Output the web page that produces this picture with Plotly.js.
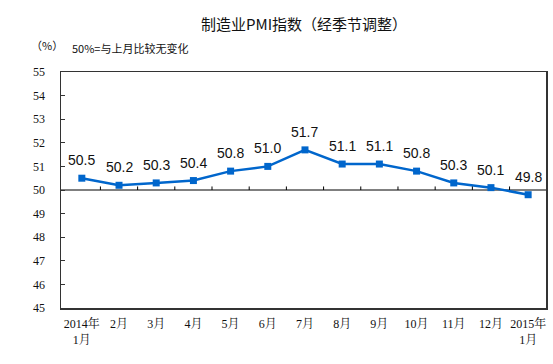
<!DOCTYPE html>
<html>
<head>
<meta charset="utf-8">
<script src="https://cdn.plot.ly/plotly-3.0.1.min.js"></script>
<style>html,body{margin:0;padding:0;background:#fff;}#chart{width:553px;height:364px;}</style>
</head>
<body>
<div id="chart"></div>
<script>
const categories = ["2014年<br>1月","2月","3月","4月","5月","6月","7月","8月","9月","10月","11月","12月","2015年<br>1月"];
const pmiValues = [50.5, 50.2, 50.3, 50.4, 50.8, 51.0, 51.7, 51.1, 51.1, 50.8, 50.3, 50.1, 49.8];
const yTickValues = [45,46,47,48,49,50,51,52,53,54,55];

const idx = categories.map((c,i)=>i);
const serifFont = "'Liberation Serif','Times New Roman','Noto Serif CJK SC','Noto Sans CJK SC',serif";

const trace = {
  x: idx,
  y: pmiValues,
  type: 'scatter',
  mode: 'lines+markers',
  line: {color: '#0066CC', width: 2.5},
  marker: {symbol: 'square', size: 7, color: '#0066CC'},
  hoverinfo: 'none',
  showlegend: false
};

const annotations = pmiValues.map((v,i)=>({
  x: i, y: v, xref: 'x', yref: 'y',
  text: v.toFixed(1), showarrow: false, yshift: 18,
  font: {family: "'Liberation Sans',Arial,sans-serif", size: 14, color: '#111'}
}));
annotations.push({
  xref: 'paper', yref: 'paper', x: 0.5, y: 1, yshift: 49, xanchor: 'center', yanchor: 'middle',
  text: '制造业PMI指数（经季节调整）', showarrow: false,
  font: {family: "'Noto Sans CJK SC',sans-serif", size: 15, color: '#111'}
});
annotations.push({
  xref: 'paper', yref: 'paper', x: 0, xshift: -14, y: 1, yshift: 27, xanchor: 'center', yanchor: 'middle',
  text: '（%）', showarrow: false,
  font: {family: "'Noto Sans CJK SC',sans-serif", size: 11, color: '#111'}
});
annotations.push({
  xref: 'paper', yref: 'paper', x: 0, xshift: 9, y: 1, yshift: 24, xanchor: 'left', yanchor: 'middle',
  text: '50%=与上月比较无变化', showarrow: false,
  font: {family: "'Noto Sans CJK SC',sans-serif", size: 11, color: '#111'}
});

const shapes = [{
  type: 'line', xref: 'paper', yref: 'y', x0: 0, x1: 1, y0: 50, y1: 50,
  line: {color: '#000', width: 1}, layer: 'below'
}];
idx.slice(0, -1).forEach(i => {
  shapes.push({type: 'line', xref: 'x', yref: 'y', x0: i + 0.5, x1: i + 0.5, y0: 50, y1: 50.15,
    line: {color: '#000', width: 1}});
});

const layout = {
  width: 553, height: 364,
  margin: {l: 61, r: 7, t: 72, b: 56},
  paper_bgcolor: '#fff', plot_bgcolor: '#fff',
  xaxis: {
    range: [-0.56, 12.48],
    tickmode: 'array', tickvals: idx, ticktext: categories,
    ticks: '', showgrid: false, zeroline: false,
    showline: true, mirror: true, linecolor: '#333', linewidth: 1.5,
    tickfont: {family: serifFont, size: 12, color: '#111'},
    ticklabelstandoff: 4
  },
  yaxis: {
    range: [45, 55],
    tickmode: 'array', tickvals: yTickValues,
    ticks: 'inside', ticklen: 4, tickcolor: '#333', tickwidth: 1,
    showgrid: false, zeroline: false,
    showline: true, mirror: true, linecolor: '#333', linewidth: 1.5,
    tickfont: {family: serifFont, size: 12, color: '#111'},
    ticklabelstandoff: 12
  },
  shapes: shapes,
  annotations: annotations
};

Plotly.newPlot('chart', [trace], layout, {staticPlot: true, displayModeBar: false});
</script>
</body>
</html>
